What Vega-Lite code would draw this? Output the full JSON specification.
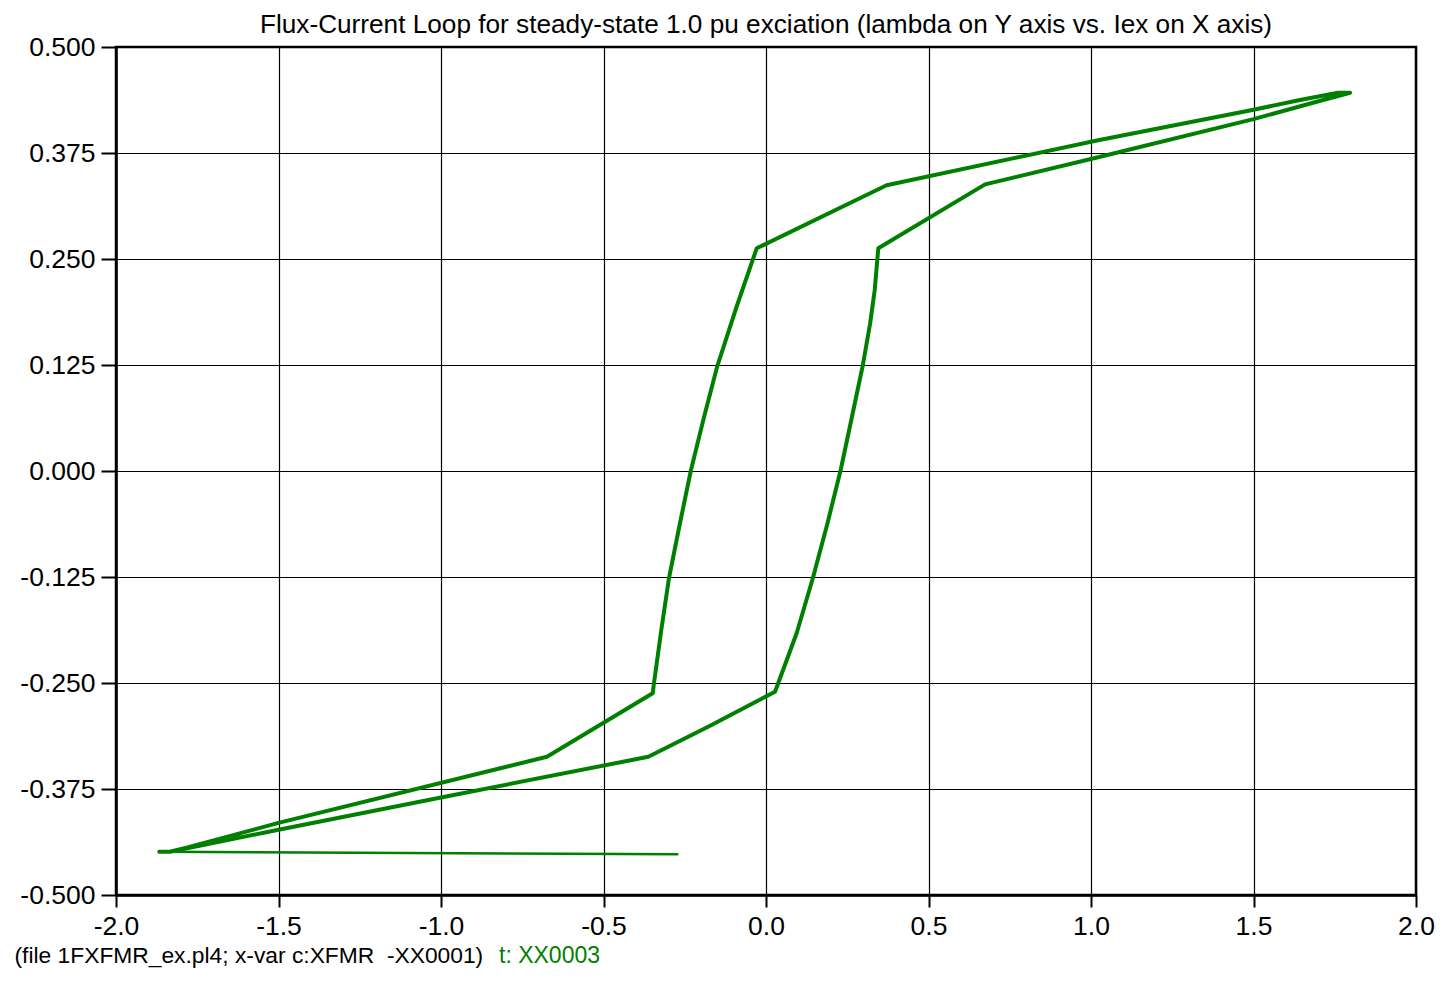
{
  "$schema": "https://vega.github.io/schema/vega-lite/v6.json",
  "width": 1300,
  "height": 848,
  "autosize": {"type": "none"},
  "padding": {"left": 116, "top": 47, "right": 33, "bottom": 86},
  "background": "white",
  "title": {
    "text": "Flux-Current Loop for steady-state 1.0 pu exciation (lambda on Y axis vs. Iex on X axis)",
    "anchor": "middle",
    "frame": "group",
    "baseline": "bottom",
    "offset": 5,
    "dy": 36,
    "font": "Liberation Sans",
    "fontSize": 26.2,
    "fontWeight": "normal",
    "color": "black"
  },
  "config": {
    "view": {"stroke": "black", "strokeWidth": 2.5},
    "font": "Liberation Sans"
  },
  "data": {
    "values": [
      {"i": 0, "x": -0.273, "y": -0.452, "part": "initial", "series": "XX0003"},
      {"i": 1, "x": -1.867, "y": -0.449, "part": "initial", "series": "XX0003"},
      {"i": 1, "x": -1.867, "y": -0.449, "part": "loop", "series": "XX0003"},
      {"i": 2, "x": -1.834, "y": -0.449, "part": "loop", "series": "XX0003"},
      {"i": 3, "x": -1.5, "y": -0.423, "part": "loop", "series": "XX0003"},
      {"i": 4, "x": -1.0, "y": -0.385, "part": "loop", "series": "XX0003"},
      {"i": 5, "x": -0.362, "y": -0.337, "part": "loop", "series": "XX0003"},
      {"i": 6, "x": -0.172, "y": -0.3005, "part": "loop", "series": "XX0003"},
      {"i": 7, "x": 0.0277, "y": -0.2603, "part": "loop", "series": "XX0003"},
      {"i": 8, "x": 0.0378, "y": -0.25, "part": "loop", "series": "XX0003"},
      {"i": 9, "x": 0.0945, "y": -0.191, "part": "loop", "series": "XX0003"},
      {"i": 10, "x": 0.1443, "y": -0.1262, "part": "loop", "series": "XX0003"},
      {"i": 11, "x": 0.1886, "y": -0.0625, "part": "loop", "series": "XX0003"},
      {"i": 12, "x": 0.2298, "y": 0.0012, "part": "loop", "series": "XX0003"},
      {"i": 13, "x": 0.2637, "y": 0.0625, "part": "loop", "series": "XX0003"},
      {"i": 14, "x": 0.2975, "y": 0.1238, "part": "loop", "series": "XX0003"},
      {"i": 15, "x": 0.3205, "y": 0.1742, "part": "loop", "series": "XX0003"},
      {"i": 16, "x": 0.3345, "y": 0.2134, "part": "loop", "series": "XX0003"},
      {"i": 17, "x": 0.3455, "y": 0.2626, "part": "loop", "series": "XX0003"},
      {"i": 18, "x": 0.674, "y": 0.338, "part": "loop", "series": "XX0003"},
      {"i": 19, "x": 1.022, "y": 0.37, "part": "loop", "series": "XX0003"},
      {"i": 20, "x": 1.5, "y": 0.415, "part": "loop", "series": "XX0003"},
      {"i": 21, "x": 1.7, "y": 0.436, "part": "loop", "series": "XX0003"},
      {"i": 22, "x": 1.797, "y": 0.446, "part": "loop", "series": "XX0003"},
      {"i": 23, "x": 1.76, "y": 0.446, "part": "loop", "series": "XX0003"},
      {"i": 24, "x": 1.643, "y": 0.4375, "part": "loop", "series": "XX0003"},
      {"i": 25, "x": 1.5, "y": 0.426, "part": "loop", "series": "XX0003"},
      {"i": 26, "x": 1.022, "y": 0.39, "part": "loop", "series": "XX0003"},
      {"i": 27, "x": 0.371, "y": 0.337, "part": "loop", "series": "XX0003"},
      {"i": 28, "x": -0.0286, "y": 0.2626, "part": "loop", "series": "XX0003"},
      {"i": 29, "x": -0.0908, "y": 0.1934, "part": "loop", "series": "XX0003"},
      {"i": 30, "x": -0.1498, "y": 0.1238, "part": "loop", "series": "XX0003"},
      {"i": 31, "x": -0.1914, "y": 0.0625, "part": "loop", "series": "XX0003"},
      {"i": 32, "x": -0.2308, "y": 0.0012, "part": "loop", "series": "XX0003"},
      {"i": 33, "x": -0.2652, "y": -0.0625, "part": "loop", "series": "XX0003"},
      {"i": 34, "x": -0.2985, "y": -0.1262, "part": "loop", "series": "XX0003"},
      {"i": 35, "x": -0.3222, "y": -0.1875, "part": "loop", "series": "XX0003"},
      {"i": 36, "x": -0.3446, "y": -0.25, "part": "loop", "series": "XX0003"},
      {"i": 37, "x": -0.3486, "y": -0.2621, "part": "loop", "series": "XX0003"},
      {"i": 38, "x": -0.674, "y": -0.337, "part": "loop", "series": "XX0003"},
      {"i": 39, "x": -1.5, "y": -0.415, "part": "loop", "series": "XX0003"},
      {"i": 40, "x": -1.78, "y": -0.444, "part": "loop", "series": "XX0003"},
      {"i": 41, "x": -1.834, "y": -0.449, "part": "loop", "series": "XX0003"}
    ]
  },
  "mark": {"type": "line", "strokeJoin": "round", "strokeCap": "round", "clip": true},
  "encoding": {
    "x": {
      "field": "x",
      "type": "quantitative",
      "scale": {"domain": [-2, 2], "nice": false, "zero": false},
      "axis": {
        "values": [-2, -1.5, -1, -0.5, 0, 0.5, 1, 1.5, 2],
        "labelExpr": "replace(format(datum.value, '.1f'), '\u2212', '-')",
        "grid": true,
        "gridColor": "black",
        "gridWidth": 1.2,
        "gridOpacity": 1,
        "domainColor": "black",
        "domainWidth": 2.5,
        "tickColor": "black",
        "tickWidth": 2,
        "tickSize": 12,
        "labelPadding": 6,
        "labelFont": "Liberation Sans",
        "labelFontSize": 26.5,
        "labelColor": "black",
        "labelFlush": false,
        "labelOverlap": false,
        "title": "(file 1FXFMR_ex.pl4; x-var c:XFMR\u00a0 -XX0001)",
        "titleFont": "Liberation Sans",
        "titleFontSize": 22.8,
        "titleFontWeight": "normal",
        "titleColor": "black",
        "titleAnchor": "start",
        "titleAlign": "left",
        "titleBaseline": "alphabetic",
        "titleX": -102,
        "titleY": 67
      }
    },
    "y": {
      "field": "y",
      "type": "quantitative",
      "scale": {"domain": [-0.5, 0.5], "nice": false, "zero": false},
      "axis": {
        "values": [-0.5, -0.375, -0.25, -0.125, 0, 0.125, 0.25, 0.375, 0.5],
        "labelExpr": "replace(format(datum.value, '.3f'), '\u2212', '-')",
        "grid": true,
        "gridColor": "black",
        "gridWidth": 1.2,
        "gridOpacity": 1,
        "domainColor": "black",
        "domainWidth": 2.5,
        "tickColor": "black",
        "tickWidth": 2,
        "tickSize": 15,
        "labelPadding": 6,
        "labelFont": "Liberation Sans",
        "labelFontSize": 26.5,
        "labelColor": "black",
        "labelFlush": false,
        "labelOverlap": false,
        "title": null
      }
    },
    "order": {"field": "i", "type": "quantitative"},
    "color": {
      "field": "series",
      "type": "nominal",
      "scale": {"domain": ["XX0003"], "range": ["#008000"]},
      "legend": {
        "orient": "none",
        "legendX": 360,
        "legendY": 897,
        "direction": "horizontal",
        "title": null,
        "labelExpr": "'t: ' + datum.label",
        "labelFont": "Liberation Sans",
        "labelFontSize": 23,
        "labelColor": "#008000",
        "labelOffset": 0,
        "symbolSize": 0,
        "symbolStrokeWidth": 0,
        "symbolOpacity": 0,
        "padding": 0
      }
    },
    "strokeWidth": {
      "field": "part",
      "type": "nominal",
      "scale": {"domain": ["initial", "loop"], "range": [2.5, 4]},
      "legend": null
    }
  }
}
